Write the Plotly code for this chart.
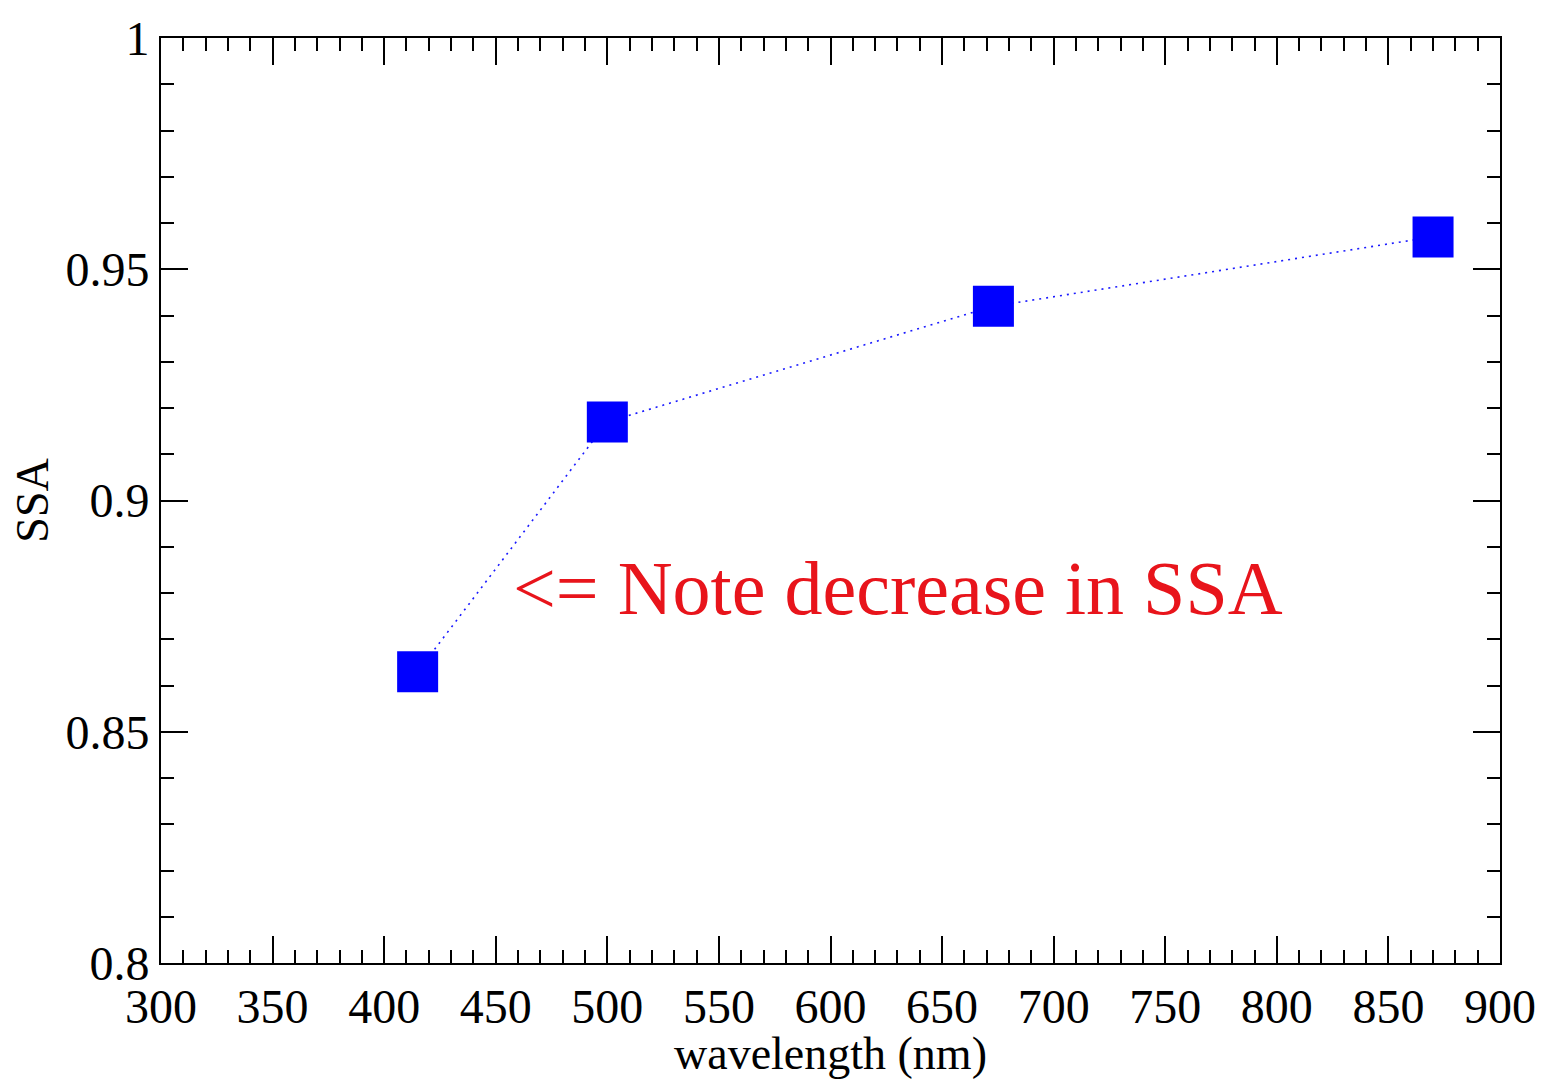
import plotly.graph_objects as go

# Single scattering albedo measured at each wavelength
wavelength_nm = [415, 500, 673, 870]
ssa = [0.863, 0.917, 0.942, 0.957]

note_text = "<= Note decrease in SSA"
note_x = 457
note_y = 0.881

FONT = "Liberation Serif"

fig = go.Figure()
fig.add_trace(go.Scatter(
    x=wavelength_nm,
    y=ssa,
    mode="lines+markers",
    line=dict(color="#1a1aff", width=1.6, dash="2px,5px"),
    marker=dict(symbol="square", size=41, color="#0000ff",
                line=dict(width=0)),
    showlegend=False,
))

fig.add_annotation(
    x=note_x, y=note_y, xref="x", yref="y",
    text=note_text, showarrow=False,
    xanchor="left", yanchor="middle",
    font=dict(family=FONT, size=76, color="#e8141b"),
)

axis_common = dict(
    showline=True, linecolor="black", linewidth=2,
    mirror="allticks", ticks="inside", ticklen=27, tickwidth=2,
    tickcolor="black", showgrid=False, zeroline=False,
    ticklabeloverflow="allow",
    tickfont=dict(family=FONT, size=48, color="black"),
)

fig.update_xaxes(
    range=[300, 900], dtick=50, tick0=300,
    minor=dict(ticks="inside", dtick=10, ticklen=13, tickwidth=2,
               tickcolor="black", showgrid=False),
    title=dict(text="wavelength (nm)", standoff=2,
               font=dict(family=FONT, size=46, color="black")),
    **axis_common,
)
fig.update_yaxes(
    range=[0.8, 1.0], dtick=0.05, tick0=0.8,
    minor=dict(ticks="inside", dtick=0.01, ticklen=13, tickwidth=2,
               tickcolor="black", showgrid=False),
    title=dict(text="SSA", standoff=2,
               font=dict(family=FONT, size=46, color="black")),
    **axis_common,
)

fig.update_layout(
    width=1548, height=1079,
    margin=dict(l=161, r=33, t=28, b=110),
    paper_bgcolor="white", plot_bgcolor="white",
)

fig.write_html("out.html")
